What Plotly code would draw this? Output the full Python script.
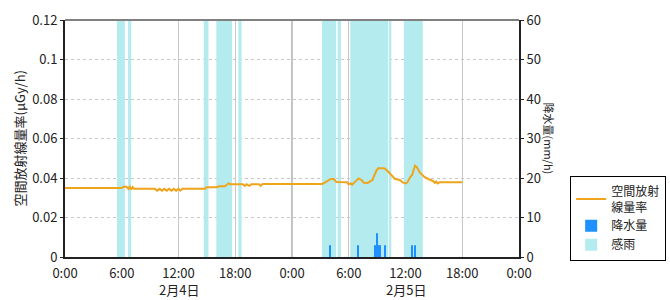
import pandas as pd
import plotly.graph_objects as go

BASE = pd.Timestamp("2025-02-04 00:00")

# 空間放射線量率 (µGy/h), time in hours from 2/4 0:00
rad_hours = [0, 5.6, 6.0, 6.2, 6.5, 6.7, 6.85, 7.0, 7.15, 7.3, 9.5, 9.75, 10.0, 10.25, 10.5,
             10.75, 11.0, 11.25, 11.5, 11.75, 12.0, 12.2, 12.4, 14.8, 15.0, 16.0, 16.3, 16.9,
             17.1, 17.3, 17.5, 18.8, 19.0, 19.2, 19.5, 19.7, 20.5, 20.7, 20.9, 27.2, 27.6,
             28.1, 28.4, 28.7, 29.8, 30.0, 30.2, 30.35, 30.6, 31.05, 31.35, 31.6, 32.0, 32.2,
             32.5, 32.9, 33.1, 33.5, 33.8, 34.1, 34.4, 34.9, 35.4, 35.7, 36.0, 36.2, 36.5,
             36.7, 37.0, 37.2, 37.5, 38.0, 38.4, 38.9, 39.1, 39.25, 39.4, 39.6, 42.0]
rad_values = [0.035, 0.035, 0.035, 0.0356, 0.0356, 0.0345, 0.0356, 0.0342, 0.0354, 0.0345,
              0.0345, 0.0336, 0.0345, 0.0336, 0.0345, 0.0336, 0.0345, 0.0336, 0.0345, 0.0336,
              0.0345, 0.0336, 0.0345, 0.0345, 0.0353, 0.0353, 0.0358, 0.0358, 0.0366, 0.0373,
              0.0368, 0.0368, 0.036, 0.0368, 0.036, 0.0368, 0.0368, 0.036, 0.037, 0.037, 0.038,
              0.0395, 0.0395, 0.038, 0.0378, 0.0368, 0.0373, 0.0366, 0.0378, 0.0398, 0.039,
              0.0376, 0.0375, 0.038, 0.039, 0.0435, 0.0449, 0.045, 0.0448, 0.0435, 0.042,
              0.0395, 0.039, 0.0378, 0.0373, 0.0378, 0.0405, 0.0415, 0.0462, 0.0455, 0.0428,
              0.0405, 0.0395, 0.0385, 0.0375, 0.0382, 0.0372, 0.0378, 0.0378]

# 降水量 (mm/h)
precip_hours = [28.0, 31.0, 32.83, 33.0, 33.17, 33.33, 33.83, 36.67, 37.0]
precip_values = [3, 3, 3, 6, 3, 3, 3, 3, 3]

# 感雨 periods (hours)
rain_start = [5.5, 6.67, 14.67, 16.0, 18.33, 27.17, 28.83, 30.17, 34.33, 35.83]
rain_end = [6.33, 7.0, 15.17, 17.67, 18.67, 28.67, 29.17, 34.17, 34.5, 37.83]

tick_hours = [0, 6, 12, 18, 24, 30, 36, 42, 48]
tick_text = ["0:00", "6:00", "12:00", "18:00", "0:00", "6:00", "12:00", "18:00", "0:00"]
date_label_hours = [12, 36]
date_labels = ["2月4日", "2月5日"]
day_boundary_hours = [24]

y_left_ticks = [0, 0.02, 0.04, 0.06, 0.08, 0.1, 0.12]
y_left_text = ["0", "0.02", "0.04", "0.06", "0.08", "0.1", "0.12"]
y_right_ticks = [0, 10, 20, 30, 40, 50, 60]


def to_dt(h):
    return BASE + pd.to_timedelta(h, unit="h")


HOUR_MS = 3600 * 1000
FONT = "Noto Sans CJK JP"

fig = go.Figure()

rain_mid = [to_dt((s + e) / 2) for s, e in zip(rain_start, rain_end)]
rain_w = [(e - s) * HOUR_MS for s, e in zip(rain_start, rain_end)]
fig.add_trace(go.Bar(x=rain_mid, y=[1] * len(rain_mid), width=rain_w, yaxis="y",
                     marker=dict(color="#b3ebee", line=dict(width=0)), name="感雨",
                     legendrank=3, hoverinfo="skip"))

fig.add_trace(go.Scatter(x=[to_dt(h) for h in rad_hours], y=rad_values, yaxis="y2",
                         mode="lines", line=dict(color="#f0a41c", width=2),
                         name="空間放射<br>線量率", legendrank=1))

fig.add_trace(go.Bar(x=[to_dt(h) for h in precip_hours], y=precip_values, yaxis="y3",
                     width=[HOUR_MS / 6] * len(precip_hours),
                     marker=dict(color="#1e90ff", line=dict(width=0)), name="降水量",
                     legendrank=2))

grid_col = "#c8c8c8"
annotations = [
    dict(text="空間放射線量率(μGy/h)", xref="paper", yref="paper", x=0, y=0.5,
         xanchor="center", yanchor="middle",
         xshift=-46, textangle=-90, showarrow=False, font=dict(size=13)),
    dict(text="降水量(mm/h)", xref="paper", yref="paper", x=1, y=0.5,
         xanchor="center", yanchor="middle",
         xshift=30, textangle=90, showarrow=False, font=dict(size=11)),
] + [
    dict(text=t, xref="x", yref="paper", x=to_dt(h), y=0, xanchor="center",
         yanchor="middle", yshift=-32, showarrow=False, font=dict(size=13))
    for h, t in zip(date_label_hours, date_labels)
]

fig.update_layout(
    width=670, height=300,
    margin=dict(l=65, r=151, t=20, b=43, autoexpand=False),
    paper_bgcolor="white", plot_bgcolor="white",
    barmode="overlay",
    font=dict(family=FONT, size=13, color="#222"),
    showlegend=True,
    legend=dict(xref="container", yref="container", x=0.851, xanchor="left",
                y=1 - 176 / 300, yanchor="top",
                bordercolor="#000", borderwidth=1, bgcolor="white",
                font=dict(size=12, family=FONT), tracegroupgap=0,
                itemwidth=30),
    xaxis=dict(type="date", range=[to_dt(0), to_dt(48)], automargin=False,
               tickvals=[to_dt(h) for h in tick_hours], ticktext=tick_text,
               ticklabelstandoff=3,
               showgrid=True, gridcolor=grid_col, gridwidth=1,
               showline=True, linecolor="#222", linewidth=2, ticks="",
               tickfont=dict(size=13), fixedrange=True),
    yaxis=dict(range=[0, 1], visible=False, fixedrange=True, automargin=False),
    yaxis2=dict(range=[0, 0.12], overlaying="y", side="left", automargin=False,
                tickvals=y_left_ticks, ticktext=y_left_text,
                showgrid=True, gridcolor=grid_col, griddash="3px,3px",
                showline=True, linecolor="#222", linewidth=2,
                ticks="outside", ticklen=3, tickcolor="#222",
                zeroline=False, fixedrange=True),
    yaxis3=dict(range=[0, 60], overlaying="y", side="right", automargin=False,
                tickvals=y_right_ticks, showgrid=False,
                showline=True, linecolor="#222", linewidth=2,
                ticks="outside", ticklen=3, tickcolor="#222",
                zeroline=False, fixedrange=True),
    annotations=annotations,
    shapes=[
        dict(type="line", xref="paper", yref="paper", x0=0, x1=1, y0=1, y1=1,
             line=dict(color="#808080", width=2)),
    ] + [
        dict(type="line", xref="x", yref="paper", x0=to_dt(h), x1=to_dt(h), y0=0, y1=1,
             line=dict(color="#808080", width=1), layer="below")
        for h in day_boundary_hours
    ],
)

fig.write_html("out.html")
